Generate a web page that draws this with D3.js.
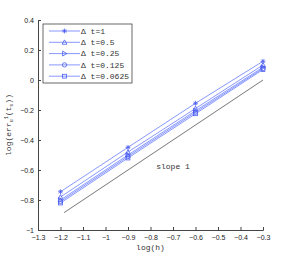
<!DOCTYPE html>
<html>
<head>
<meta charset="utf-8">
<script src="https://cdn.jsdelivr.net/npm/d3@7"></script>
<style>
  body { margin: 0; background: #fff; }
  svg { display: block; }
  .tick text { font-family: "Liberation Sans", Arial, sans-serif; font-size: 7px; fill: #222; }
  .mono { font-family: "Liberation Mono", "DejaVu Sans Mono", monospace; fill: #333; }
</style>
</head>
<body>
<div id="chart"></div>
<script>
// log(h) values
const logH = [-1.2, -0.9, -0.6, -0.3];
const seriesNames = ["\u0394 t=1", "\u0394 t=0.5", "\u0394 t=0.25", "\u0394 t=0.125", "\u0394 t=0.0625"];
const dt1 = [-0.745, -0.449, -0.155, 0.125];
const dt05 = [-0.78, -0.48, -0.19, 0.10];
const dt025 = [-0.80, -0.50, -0.205, 0.085];
const dt0125 = [-0.81, -0.51, -0.215, 0.077];
const dt00625 = [-0.82, -0.52, -0.225, 0.07];
const seriesValues = [dt1, dt05, dt025, dt0125, dt00625];
const slopeX = [-1.184, -0.3];
const slopeY = [-0.884, 0.0];
const xTicks = [-1.3, -1.2, -1.1, -1, -0.9, -0.8, -0.7, -0.6, -0.5, -0.4, -0.3];
const yTicks = [-1, -0.8, -0.6, -0.4, -0.2, 0, 0.2, 0.4];

const W = 291, H = 259;
const margin = { top: 20, right: 28, bottom: 29, left: 38 };
const innerW = W - margin.left - margin.right;
const innerH = H - margin.top - margin.bottom;

const svg = d3.select("#chart").append("svg")
    .attr("width", W)
    .attr("height", H);

const g = svg.append("g")
    .attr("transform", `translate(${margin.left},${margin.top})`);

const x = d3.scaleLinear().domain([-1.3, -0.3]).range([0, innerW]);
const y = d3.scaleLinear().domain([-1, 0.4]).range([innerH, 0]);

const fmt = d => (d === 0 ? "0" : d3.format("")(d)).replace("-", "\u2212");

// axes (ticks pointing inward, matlab style)
const xAxis = g.append("g")
    .attr("transform", `translate(0,${innerH})`)
    .call(d3.axisBottom(x).tickValues(xTicks).tickSize(-3).tickPadding(5).tickFormat(fmt));
const yAxis = g.append("g")
    .call(d3.axisLeft(y).tickValues(yTicks).tickSize(-3).tickPadding(4).tickFormat(fmt));
[xAxis, yAxis].forEach(a => {
    a.select(".domain").attr("stroke", "#444");
    a.selectAll(".tick line").attr("stroke", "#444");
});

// slope line
g.append("line")
    .attr("x1", x(slopeX[0])).attr("y1", y(slopeY[0]))
    .attr("x2", x(slopeX[1])).attr("y2", y(slopeY[1]))
    .attr("stroke", "#555")
    .attr("stroke-width", 0.8);

g.append("text")
    .attr("class", "mono")
    .attr("x", x(-0.7)).attr("y", y(-0.595))
    .attr("text-anchor", "middle")
    .style("font-size", "8px")
    .text("slope 1");

const lineColor = "#7b8cff";
const markColor = "#4a5cf0";

function marker(sel, i, cx, cy) {
    const s = 2.4;
    const mg = sel.append("g").attr("transform", `translate(${cx},${cy})`)
        .attr("fill", "none").attr("stroke", markColor).attr("stroke-width", 0.8);
    if (i === 0) {
        mg.append("path").attr("d", `M${-s},0H${s}M0,${-s}V${s}M${-s*0.7},${-s*0.7}L${s*0.7},${s*0.7}M${-s*0.7},${s*0.7}L${s*0.7},${-s*0.7}`);
    } else if (i === 1) {
        mg.append("path").attr("d", `M0,${-s}L${s},${s*0.8}L${-s},${s*0.8}Z`);
    } else if (i === 2) {
        mg.append("path").attr("d", `M${s},0L${-s*0.8},${-s}L${-s*0.8},${s}Z`);
    } else if (i === 3) {
        mg.append("circle").attr("r", s * 0.9);
    } else {
        mg.append("rect").attr("x", -s * 0.8).attr("y", -s * 0.8).attr("width", s * 1.6).attr("height", s * 1.6);
    }
}

const line = d3.line().x((d, i) => x(logH[i])).y(d => y(d));

seriesValues.forEach((vals, i) => {
    g.append("path")
        .datum(vals)
        .attr("fill", "none")
        .attr("stroke", lineColor)
        .attr("stroke-width", 0.9)
        .attr("d", line);
    vals.forEach((v, j) => marker(g, i, x(logH[j]), y(v)));
});

// legend
const lg = svg.append("g").attr("transform", "translate(43,24)");
lg.append("rect")
    .attr("width", 89).attr("height", 59)
    .attr("fill", "#fff")
    .attr("stroke", "#444")
    .attr("stroke-width", 0.8);
seriesNames.forEach((name, i) => {
    const ly = 7 + i * 11.3;
    lg.append("line")
        .attr("x1", 6).attr("x2", 37).attr("y1", ly).attr("y2", ly)
        .attr("stroke", lineColor).attr("stroke-width", 0.9);
    marker(lg, i, 21.5, ly);
    lg.append("text")
        .attr("class", "mono")
        .attr("x", 38).attr("y", ly + 2.8)
        .style("font-size", "8px")
        .text(name);
});

// axis labels
svg.append("text")
    .attr("class", "mono")
    .attr("x", margin.left + x(-0.8)).attr("y", 250)
    .attr("text-anchor", "middle")
    .style("font-size", "8px")
    .text("log(h)");

const yl = svg.append("text")
    .attr("class", "mono")
    .attr("transform", `translate(11,${margin.top + y(-0.3)}) rotate(-90)`)
    .attr("text-anchor", "middle")
    .style("font-size", "8px");
yl.append("tspan").text("log(err");
yl.append("tspan").attr("dy", 2).style("font-size", "5px").text("u");
yl.append("tspan").attr("dy", -5).style("font-size", "5px").text("1");
yl.append("tspan").attr("dy", 3).text("(t");
yl.append("tspan").attr("dy", 2).style("font-size", "5px").text("s");
yl.append("tspan").attr("dy", -2).text("))");
</script>
</body>
</html>
